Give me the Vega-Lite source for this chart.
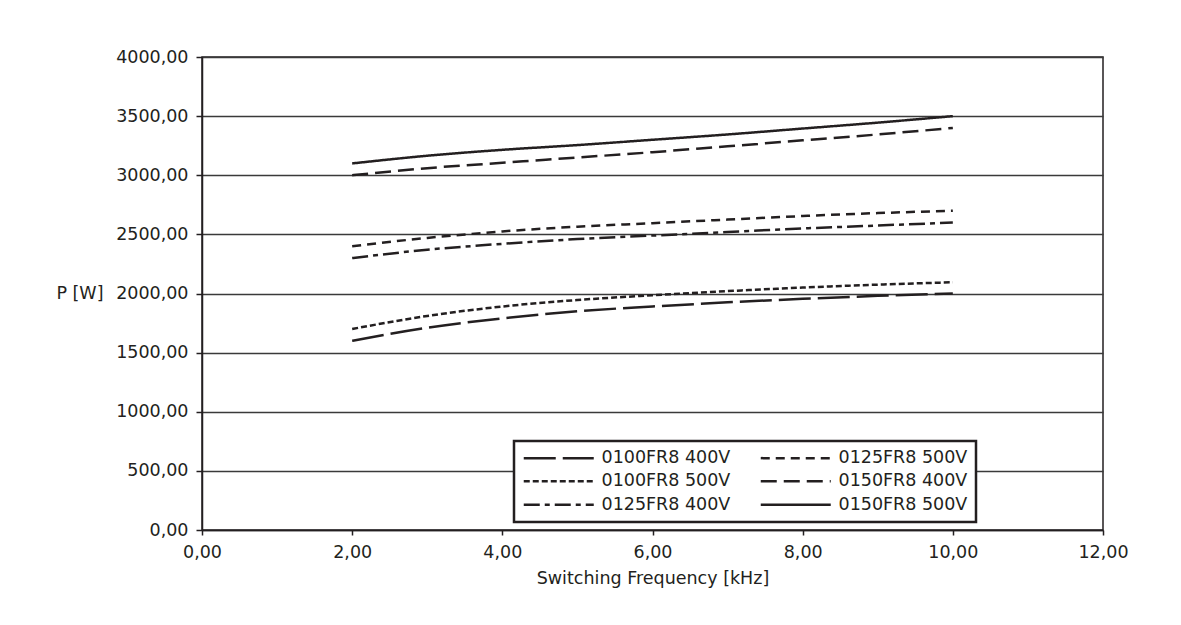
{
  "$schema": "https://vega.github.io/schema/vega-lite/v6.json",
  "autosize": {"type": "none"},
  "padding": {"left": 202, "top": 57, "right": 78, "bottom": 95},
  "width": 901,
  "height": 473,
  "background": "white",
  "config": {
    "view": {"stroke": "#231f20", "strokeWidth": 1.5},
    "font": "DejaVu Sans"
  },
  "data": {
    "values": [
      {"series": "0150FR8 500V", "f": 2, "p": 3100}, {"series": "0150FR8 500V", "f": 3, "p": 3165}, {"series": "0150FR8 500V", "f": 4, "p": 3215}, {"series": "0150FR8 500V", "f": 5, "p": 3255}, {"series": "0150FR8 500V", "f": 6, "p": 3300}, {"series": "0150FR8 500V", "f": 7, "p": 3345}, {"series": "0150FR8 500V", "f": 8, "p": 3395}, {"series": "0150FR8 500V", "f": 9, "p": 3445}, {"series": "0150FR8 500V", "f": 10, "p": 3500},
      {"series": "0150FR8 400V", "f": 2, "p": 3000}, {"series": "0150FR8 400V", "f": 3, "p": 3060}, {"series": "0150FR8 400V", "f": 4, "p": 3105}, {"series": "0150FR8 400V", "f": 5, "p": 3150}, {"series": "0150FR8 400V", "f": 6, "p": 3195}, {"series": "0150FR8 400V", "f": 7, "p": 3245}, {"series": "0150FR8 400V", "f": 8, "p": 3295}, {"series": "0150FR8 400V", "f": 9, "p": 3345}, {"series": "0150FR8 400V", "f": 10, "p": 3400},
      {"series": "0125FR8 500V", "f": 2, "p": 2400}, {"series": "0125FR8 500V", "f": 3, "p": 2470}, {"series": "0125FR8 500V", "f": 4, "p": 2525}, {"series": "0125FR8 500V", "f": 5, "p": 2565}, {"series": "0125FR8 500V", "f": 6, "p": 2595}, {"series": "0125FR8 500V", "f": 7, "p": 2625}, {"series": "0125FR8 500V", "f": 8, "p": 2655}, {"series": "0125FR8 500V", "f": 9, "p": 2680}, {"series": "0125FR8 500V", "f": 10, "p": 2700},
      {"series": "0125FR8 400V", "f": 2, "p": 2300}, {"series": "0125FR8 400V", "f": 3, "p": 2370}, {"series": "0125FR8 400V", "f": 4, "p": 2420}, {"series": "0125FR8 400V", "f": 5, "p": 2460}, {"series": "0125FR8 400V", "f": 6, "p": 2490}, {"series": "0125FR8 400V", "f": 7, "p": 2520}, {"series": "0125FR8 400V", "f": 8, "p": 2550}, {"series": "0125FR8 400V", "f": 9, "p": 2575}, {"series": "0125FR8 400V", "f": 10, "p": 2600},
      {"series": "0100FR8 500V", "f": 2, "p": 1700}, {"series": "0100FR8 500V", "f": 3, "p": 1810}, {"series": "0100FR8 500V", "f": 4, "p": 1890}, {"series": "0100FR8 500V", "f": 5, "p": 1945}, {"series": "0100FR8 500V", "f": 6, "p": 1985}, {"series": "0100FR8 500V", "f": 7, "p": 2020}, {"series": "0100FR8 500V", "f": 8, "p": 2050}, {"series": "0100FR8 500V", "f": 9, "p": 2075}, {"series": "0100FR8 500V", "f": 10, "p": 2095},
      {"series": "0100FR8 400V", "f": 2, "p": 1600}, {"series": "0100FR8 400V", "f": 3, "p": 1710}, {"series": "0100FR8 400V", "f": 4, "p": 1790}, {"series": "0100FR8 400V", "f": 5, "p": 1850}, {"series": "0100FR8 400V", "f": 6, "p": 1890}, {"series": "0100FR8 400V", "f": 7, "p": 1925}, {"series": "0100FR8 400V", "f": 8, "p": 1955}, {"series": "0100FR8 400V", "f": 9, "p": 1980}, {"series": "0100FR8 400V", "f": 10, "p": 2000}
    ]
  },
  "mark": {"type": "line", "interpolate": "monotone", "color": "#231f20", "strokeWidth": 2.5},
  "encoding": {
    "x": {
      "field": "f", "type": "quantitative",
      "scale": {"domain": [0, 12], "nice": false},
      "axis": {
        "values": [0, 2, 4, 6, 8, 10, 12],
        "labelExpr": "replace(format(datum.value, '.2f'), '.', ',')",
        "grid": false,
        "domainColor": "#231f20", "domainWidth": 1.5,
        "tickColor": "#231f20", "tickWidth": 1.5, "tickSize": 5,
        "labelFont": "DejaVu Sans", "labelFontSize": 17.5, "labelColor": "#231f20", "labelPadding": 8,
        "labelFlush": false,
        "title": "Switching Frequency [kHz]",
        "titleFont": "DejaVu Sans", "titleFontSize": 17.5, "titleFontWeight": "normal", "titleColor": "#231f20",
        "titleBaseline": "alphabetic", "titleY": 53
      }
    },
    "y": {
      "field": "p", "type": "quantitative",
      "scale": {"domain": [0, 4000], "nice": false},
      "axis": {
        "values": [0, 500, 1000, 1500, 2000, 2500, 3000, 3500, 4000],
        "labelExpr": "replace(format(datum.value, '.2f'), '.', ',')",
        "grid": true, "gridColor": "#3a3a3a", "gridWidth": 1.4,
        "domainColor": "#231f20", "domainWidth": 1.5,
        "tickColor": "#231f20", "tickWidth": 1.5, "tickSize": 6,
        "labelFont": "DejaVu Sans", "labelFontSize": 17.5, "labelColor": "#231f20", "labelPadding": 8,
        "labelFlush": false,
        "title": "P [W]",
        "titleFont": "DejaVu Sans", "titleFontSize": 17.5, "titleFontWeight": "normal", "titleColor": "#231f20",
        "titleAngle": 0, "titleAlign": "right", "titleBaseline": "middle", "titleX": -99, "titleY": 236
      }
    },
    "strokeDash": {
      "field": "series", "type": "nominal",
      "scale": {
        "domain": ["0100FR8 400V", "0100FR8 500V", "0125FR8 400V", "0125FR8 500V", "0150FR8 400V", "0150FR8 500V"],
        "range": [[32, 7], [6, 3], [16, 5, 5, 5], [9, 6], [16, 7], [1, 0]]
      },
      "legend": {
        "orient": "none", "legendX": 312, "legendY": 384,
        "title": null, "columns": 2, "direction": "vertical",
        "fillColor": "white", "strokeColor": "#231f20",
        "padding": 8,
        "symbolType": "M -1 0 H 9", "symbolSize": 196,
        "symbolStrokeWidth": 2.5, "symbolStrokeColor": "#231f20",
        "labelOffset": 62, "labelFont": "DejaVu Sans", "labelFontSize": 17.5, "labelColor": "#231f20",
        "columnPadding": 24, "rowPadding": 4.5, "labelLimit": 300,
        "encode": {"legend": {"update": {"strokeWidth": {"value": 2.5}}}}
      }
    }
  }
}
